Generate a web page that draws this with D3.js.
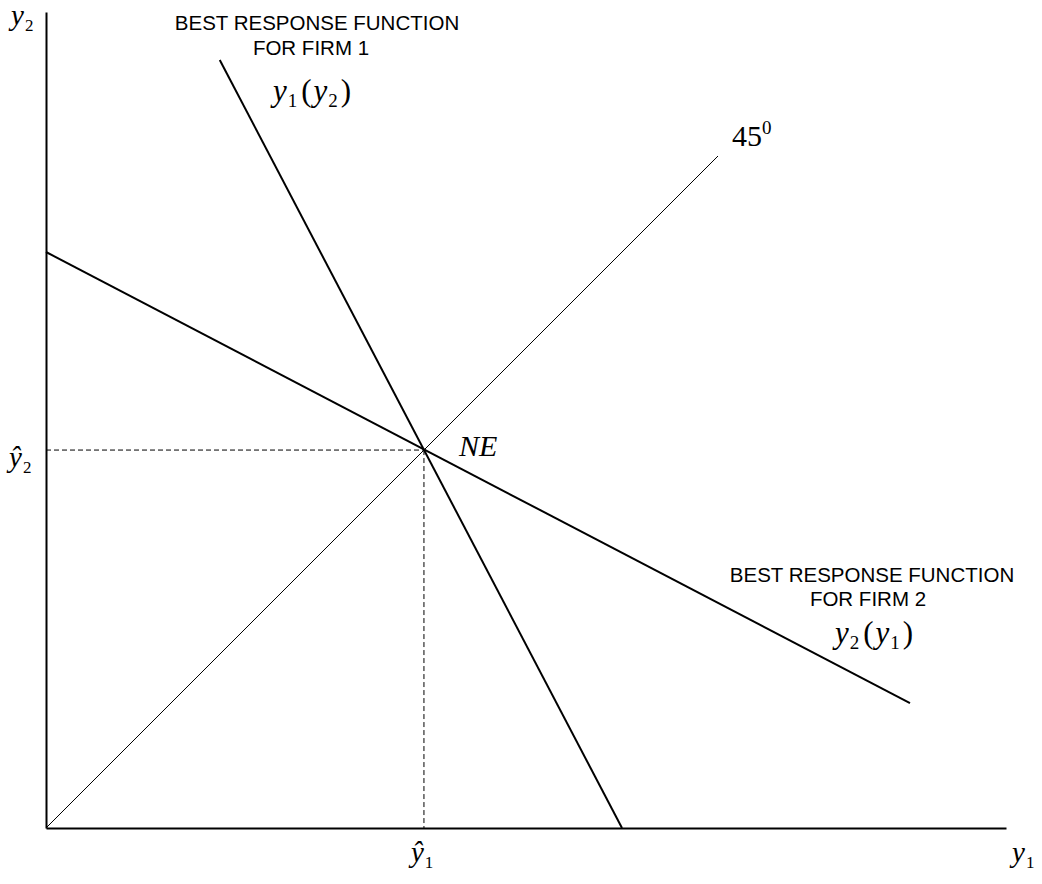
<!DOCTYPE html>
<html><head><meta charset="utf-8">
<script src="https://cdn.jsdelivr.net/npm/d3@7"></script>
<style>
html,body{margin:0;padding:0;background:#fff;}
svg{display:block;}
.math{font-family:"Liberation Serif","Times New Roman",serif;}
.caps{font-family:"Liberation Sans",Arial,sans-serif;}
</style></head>
<body>
<script>
// ---- data (model units) ----
const xDomain = [0, 10];
const yDomain = [0, 8.5];
const firm1Line = [[6.0, 0], [1.81, 8.0]];     // y1(y2)
const firm2Line = [[0, 6.0], [9.0, 1.3]];      // y2(y1)
const diagLine = [[0, 0], [7.0, 7.0]];         // 45 degree
const nashEq = [3.937, 3.937];
const firm1Caption = ["BEST RESPONSE FUNCTION", "FOR FIRM 1"];
const firm2Caption = ["BEST RESPONSE FUNCTION", "FOR FIRM 2"];

const W = 1042, H = 884;
const svg = d3.select("body").append("svg").attr("width", W).attr("height", H);

const x = d3.scaleLinear().domain(xDomain).range([46, 1006]);
const y = d3.scaleLinear().domain(yDomain).range([828, 12]);

// axes
svg.append("g").attr("transform", `translate(0,${y(0)})`)
  .call(d3.axisBottom(x).tickValues([]).tickSizeOuter(0))
  .call(g => g.select(".domain").attr("stroke", "#000").attr("stroke-width", 2));
svg.append("g").attr("transform", `translate(${x(0)},0)`)
  .call(d3.axisLeft(y).tickValues([]).tickSizeOuter(0))
  .call(g => g.select(".domain").attr("stroke", "#000").attr("stroke-width", 2));

const line = d3.line().x(d => x(d[0])).y(d => y(d[1]));

// dashed guides
svg.append("path").attr("d", line([[0, nashEq[1]], nashEq]))
  .attr("fill", "none").attr("stroke", "#000").attr("stroke-width", 1).attr("stroke-dasharray", "5,3");
svg.append("path").attr("d", line([nashEq, [nashEq[0], 0]]))
  .attr("fill", "none").attr("stroke", "#000").attr("stroke-width", 1).attr("stroke-dasharray", "5,3");

// 45 line
svg.append("path").attr("d", line(diagLine)).attr("fill", "none").attr("stroke", "#000").attr("stroke-width", 1);
// best responses
svg.append("path").attr("d", line(firm1Line)).attr("fill", "none").attr("stroke", "#000").attr("stroke-width", 2);
svg.append("path").attr("d", line(firm2Line)).attr("fill", "none").attr("stroke", "#000").attr("stroke-width", 2);

// helper: math text
function mathLabel(px, py, parts, size) {
  const t = svg.append("text").attr("class", "math").attr("x", px).attr("y", py)
    .attr("font-size", size).attr("fill", "#000");
  parts.forEach(p => {
    const ts = t.append("tspan").text(p.t);
    if (p.it) ts.attr("font-style", "italic");
    if (p.sub) ts.attr("font-size", Math.round(size * 0.6));
    if (p.dy) ts.attr("dy", p.dy);
    if (p.dx) ts.attr("dx", p.dx);
  });
  return t;
}
const S = 29;
// axis names
mathLabel(11, 25, [{t:"y", it:true}, {t:"2", sub:true, dy:6, dx:1}], S);
mathLabel(1012, 862, [{t:"y", it:true}, {t:"1", sub:true, dy:6, dx:1}], S);
// hat labels
mathLabel(x(nashEq[0]) - 13, y(0) + 34, [{t:"ŷ", it:true}, {t:"1", sub:true, dy:6, dx:1}], S);
mathLabel(9, y(nashEq[1]) + 17, [{t:"ŷ", it:true}, {t:"2", sub:true, dy:6, dx:1}], S);

// NE
svg.append("text").attr("class", "math").attr("x", x(nashEq[0]) + 35).attr("y", y(nashEq[1]) + 6)
  .attr("font-size", 30).attr("font-style", "italic").text("NE");

// 45°
const t45 = svg.append("text").attr("class", "math").attr("x", 732).attr("y", 146).attr("font-size", 30);
t45.append("tspan").text("45");
t45.append("tspan").text("0").attr("font-size", 19).attr("dy", -12);

// captions
firm1Caption.forEach((s, i) => {
  svg.append("text").attr("class", "caps").attr("x", i === 0 ? 317 : 311).attr("y", 30 + i * 25)
    .attr("text-anchor", "middle").attr("font-size", 20.5).text(s);
});
firm2Caption.forEach((s, i) => {
  svg.append("text").attr("class", "caps").attr("x", i === 0 ? 872 : 868).attr("y", 582 + i * 24)
    .attr("text-anchor", "middle").attr("font-size", 20.5).text(s);
});

const S2 = 31;
mathLabel(273, 101, [{t:"y", it:true}, {t:"1", sub:true, dy:6, dx:1}, {t:"(", dy:-6, dx:4}, {t:"y", it:true, dx:2}, {t:"2", sub:true, dy:6, dx:1}, {t:")", dy:-6, dx:3}], S2);
mathLabel(835, 643, [{t:"y", it:true}, {t:"2", sub:true, dy:6, dx:1}, {t:"(", dy:-6, dx:4}, {t:"y", it:true, dx:2}, {t:"1", sub:true, dy:6, dx:1}, {t:")", dy:-6, dx:3}], S2);
</script>
</body></html>
